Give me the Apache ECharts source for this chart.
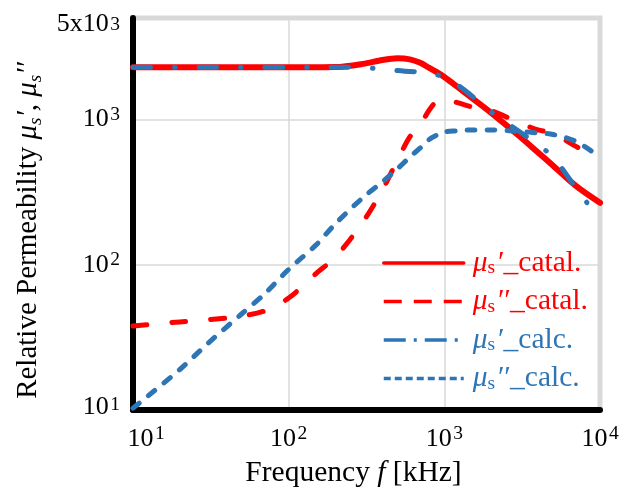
<!DOCTYPE html>
<html>
<head>
<meta charset="utf-8">
<script src="https://cdn.jsdelivr.net/npm/echarts@6/dist/echarts.min.js"></script>
<style>
html,body{margin:0;padding:0;background:#fff;}
#chart{width:635px;height:501px;}
</style>
</head>
<body>
<div id="chart"></div>
<script>
// ---- data (frequency in kHz, relative permeability) ----
const freq = [10,20,30,50,70,100,150,200,300,400,500,600,700,800,900,1000,1200,1500,2000,3000,4000,5000,7000,10000];
const muRealCatal = [2290,2290,2290,2290,2290,2290,2290,2295,2415,2570,2640,2594,2455,2265,2110,1963,1695,1408,1110,776,593,481,349,267];
const muImagCatal = [37.9,40.4,41.7,44.4,48.1,59,87,113,197,327,527,759,918,1164,1342,1374,1312,1221,1150,955,848,802,653,530];
const muRealCalc = [2290,2290,2290,2290,2290,2290,2290,2290,2275,2230,2177,2142,2127,2094,2030,1935,1746,1455,1128,833,668,552,338,204];
const muImagCalc = [10.3,19,28.5,46,63,93,137,192,290,372,458,552,637,729,783,822,835,848,848,828,809,789,706,552];

// ---- tick labels ----
const xTickValues = [10, 100, 1000, 10000];
const xTickMantissa = ['10', '10', '10', '10'];
const xTickExponent = ['1', '2', '3', '4'];
const yTickValues = [10, 100, 1000, 5000];
const yTickMantissa = ['10', '10', '10', '5x10'];
const yTickExponent = ['1', '2', '3', '3'];

// ---- series names ----
const seriesNames = ['μs′_catal.', 'μs′′_catal.', 'μs′_calc.', 'μs′′_calc.'];
const legendParts = [['′', '_catal.'], ['′′', '_catal.'], ['′', '_calc.'], ['′′', '_calc.']];

const FONT = "'Liberation Serif', 'Times New Roman', serif";
const RED = '#ff0000';
const BLUE = '#2e75b6';

function findTick(values, v) {
  return values.findIndex(t => Math.abs(Math.log10(t) - Math.log10(v)) < 1e-6);
}
function pairs(ys) { return freq.map((f, i) => [f, ys[i]]); }

const chart = echarts.init(document.getElementById('chart'), null, {renderer: 'canvas'});

const tickBase = {fontFamily: FONT, fontSize: 26, color: '#000', lineHeight: 30, verticalAlign: 'middle'};
const tickSup = {fontFamily: FONT, fontSize: 19.5, color: '#000', lineHeight: 24, verticalAlign: 'top', padding: [0, 0, 0, 1.5]};

function legendRich(color) {
  return {
    mu: {fontFamily: FONT, fontSize: 29.5, fontStyle: 'italic', color: color, lineHeight: 30, verticalAlign: 'middle', padding: [0, 0, 0, 4]},
    sub: {fontFamily: FONT, fontSize: 19.5, color: color, lineHeight: 19, verticalAlign: 'bottom'},
    p: {fontFamily: FONT, fontSize: 29.5, fontStyle: 'italic', color: color, lineHeight: 30, verticalAlign: 'middle', padding: [0, 1, 0, 1]},
    t: {fontFamily: FONT, fontSize: 29.5, color: color, lineHeight: 30, verticalAlign: 'middle'}
  };
}
const rR = legendRich(RED), rB = legendRich(BLUE);
const legendRichAll = {
  muR: rR.mu, subR: rR.sub, pR: rR.p, tR: rR.t,
  muB: rB.mu, subB: rB.sub, pB: rB.p, tB: rB.t
};

const option = {
  animation: false,
  backgroundColor: '#ffffff',
  grid: {
    left: 133, right: 35, top: 18, bottom: 91,
    show: true, borderColor: '#d9d9d9', borderWidth: 5,
    backgroundColor: 'transparent', z: 0,
    outerBoundsMode: 'none'
  },
  legend: {
    orient: 'vertical', left: 382, top: 248, padding: 0,
    itemGap: 8.5, itemWidth: 80, itemHeight: 14, selectedMode: false,
    itemStyle: {opacity: 0, borderWidth: 0},
    data: [
      {name: seriesNames[0], lineStyle: {width: 3.5, type: 'solid'}},
      {name: seriesNames[1], lineStyle: {width: 3.5, type: [18, 12], cap: 'butt'}},
      {name: seriesNames[2], lineStyle: {width: 3.5, type: [22, 8, 3, 8], cap: 'butt'}},
      {name: seriesNames[3], lineStyle: {width: 3.5, type: [7, 4], cap: 'butt'}}
    ],
    formatter: function (name) {
      const i = seriesNames.indexOf(name);
      const k = i < 2 ? 'R' : 'B';
      return '{mu' + k + '|μ}{sub' + k + '|s}{p' + k + '|' + legendParts[i][0] + '}{t' + k + '|' + legendParts[i][1] + '}';
    },
    textStyle: {fontFamily: FONT, fontSize: 29.5, rich: legendRichAll}
  },
  xAxis: {
    type: 'log', logBase: 10, min: 10, max: 10000, z: 1,
    axisLine: {show: true, lineStyle: {color: '#000', width: 6, cap: 'round'}},
    axisTick: {show: false},
    splitLine: {show: true, lineStyle: {color: '#d9d9d9', width: 1.5}},
    axisLabel: {
      margin: 14, showMinLabel: true, showMaxLabel: true,
      formatter: function (v) {
        const i = findTick(xTickValues, v);
        if (i < 0) return '';
        if (i === 0) return '{b0|' + xTickMantissa[i] + '}{s|' + xTickExponent[i] + '}';
        return '{b|' + xTickMantissa[i] + '}{s|' + xTickExponent[i] + '}';
      },
      rich: {
        b: tickBase,
        b0: Object.assign({}, tickBase, {padding: [0, 0, 0, 26]}),
        s: tickSup
      }
    },
    name: 'Frequency {i|f} [kHz]',
    nameLocation: 'middle', nameGap: 48,
    nameTextStyle: {
      fontFamily: FONT, fontSize: 29.5, color: '#000', padding: [0, 26, 0, 0],
      rich: {i: {fontFamily: FONT, fontSize: 29.5, fontStyle: 'italic', color: '#000'}}
    }
  },
  yAxis: {
    type: 'log', logBase: 10, min: 10, max: 5000, z: 1,
    axisLine: {show: true, lineStyle: {color: '#000', width: 6, cap: 'round'}},
    axisTick: {show: false},
    splitLine: {show: true, lineStyle: {color: '#d9d9d9', width: 1.5}},
    axisLabel: {
      margin: 13, showMinLabel: true, showMaxLabel: true,
      formatter: function (v) {
        const i = findTick(yTickValues, v);
        if (i < 0) return '';
        if (i === 3) return '{bt|' + yTickMantissa[i] + '}{st|' + yTickExponent[i] + '}';
        if (i === 0) return '{bb|' + yTickMantissa[i] + '}{sb|' + yTickExponent[i] + '}';
        return '{b|' + yTickMantissa[i] + '}{s|' + yTickExponent[i] + '}';
      },
      rich: {
        b: tickBase,
        s: tickSup,
        bt: Object.assign({}, tickBase, {padding: [12, 0, 0, 0]}),
        st: Object.assign({}, tickSup, {padding: [12, 0, 0, 1.5]}),
        bb: Object.assign({}, tickBase, {padding: [0, 0, 6, 0]}),
        sb: Object.assign({}, tickSup, {padding: [0, 0, 6, 1.5]})
      }
    },
    name: 'Relative Permeability {mu|μ}{sub|s}{p|′}{t|, }{mu|μ}{sub|s}{p|′′}',
    nameLocation: 'middle', nameGap: 88,
    nameTextStyle: {
      fontFamily: FONT, fontSize: 29, color: '#000', padding: [0, 33, 0, 0],
      rich: {
        mu: {fontFamily: FONT, fontSize: 29, fontStyle: 'italic', color: '#000', lineHeight: 33, verticalAlign: 'middle'},
        sub: {fontFamily: FONT, fontSize: 19, fontStyle: 'italic', color: '#000', lineHeight: 19, verticalAlign: 'bottom'},
        p: {fontFamily: FONT, fontSize: 29, fontStyle: 'italic', color: '#000', lineHeight: 33, verticalAlign: 'middle'},
        t: {fontFamily: FONT, fontSize: 29, color: '#000', lineHeight: 33, verticalAlign: 'middle'}
      }
    }
  },
  series: [
    {
      name: seriesNames[0], type: 'line', data: pairs(muRealCatal), smooth: 0.3,
      symbol: 'none', z: 3, color: RED,
      lineStyle: {color: RED, width: 6, type: 'solid', cap: 'round', join: 'round'}
    },
    {
      name: seriesNames[1], type: 'line', data: pairs(muImagCatal), smooth: 0.3,
      symbol: 'none', z: 3, color: RED,
      lineStyle: {color: RED, width: 5, type: [14, 25], cap: 'round', join: 'round'}
    },
    {
      name: seriesNames[2], type: 'line', data: pairs(muRealCalc), smooth: 0.3,
      symbol: 'none', z: 4, color: BLUE,
      lineStyle: {color: BLUE, width: 5, type: [17.5, 24, 0.5, 24], cap: 'round', join: 'round'}
    },
    {
      name: seriesNames[3], type: 'line', data: pairs(muImagCalc), smooth: 0.3,
      symbol: 'none', z: 4, color: BLUE,
      lineStyle: {color: BLUE, width: 5, type: [8, 12], cap: 'round', join: 'round'}
    }
  ]
};
chart.setOption(option);
</script>
</body>
</html>
